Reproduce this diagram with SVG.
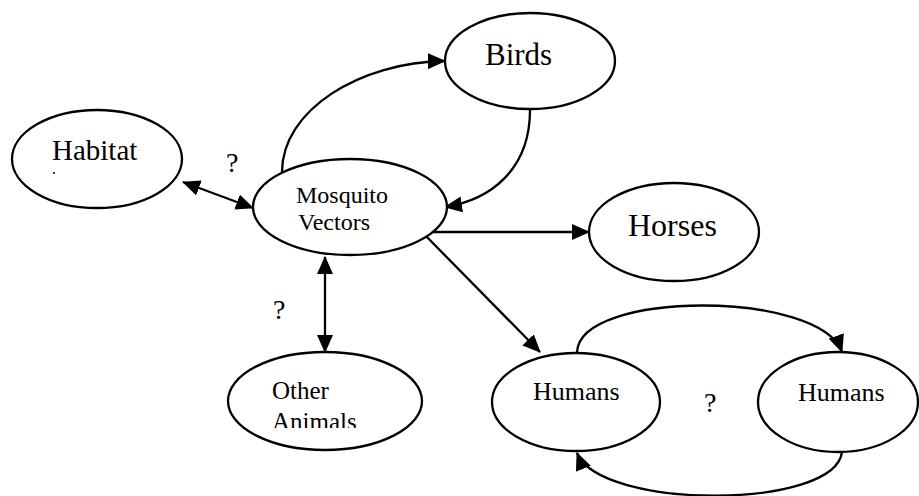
<svg xmlns="http://www.w3.org/2000/svg" width="919" height="496" viewBox="0 0 919 496">
  <style>
    .node { fill: #ffffff; stroke: #000000; stroke-width: 2.3; }
    .lbl { font-family: 'Liberation Serif', 'Times New Roman', serif; fill: #000000; }
    .edge { fill: none; stroke: #000000; stroke-width: 2.3; }
  </style>
  <defs>
    <marker id="arrow" markerUnits="userSpaceOnUse" markerWidth="18" markerHeight="16" refX="17" refY="8" orient="auto-start-reverse">
      <path d="M0,0 L18,8 L0,16 z" fill="#000000"/>
    </marker>
    <clipPath id="clip-animals">
      <rect x="228" y="340" width="200" height="88"/>
    </clipPath>
  </defs>

  <rect width="919" height="496" fill="#ffffff"/>

  <!-- connectors -->
  <g id="connectors">
    <line class="edge" x1="183" y1="182" x2="253" y2="208" marker-start="url(#arrow)" marker-end="url(#arrow)"/>
    <path class="edge" d="M282,172 C282,110 360,62 445,61" marker-end="url(#arrow)"/>
    <path class="edge" d="M530,110 C530,170 490,200 445,207" marker-end="url(#arrow)"/>
    <line class="edge" x1="422" y1="232" x2="589" y2="232" marker-end="url(#arrow)"/>
    <line class="edge" x1="422" y1="232" x2="540" y2="352" marker-end="url(#arrow)"/>
    <line class="edge" x1="325" y1="257" x2="325" y2="352" marker-start="url(#arrow)" marker-end="url(#arrow)"/>
    <path class="edge" d="M577,352 C580,290 820,290 842,352" marker-end="url(#arrow)"/>
    <path class="edge" d="M842,452 C835,510 600,510 577,453" marker-end="url(#arrow)"/>
  </g>

  <!-- question marks on uncertain links -->
  <g id="labels">
    <text class="lbl" x="226" y="172" font-size="28">?</text>
    <text class="lbl" x="273" y="319" font-size="28">?</text>
    <text class="lbl" x="704" y="412" font-size="28">?</text>
  </g>

  <g id="habitat">
    <ellipse class="node" cx="97" cy="159" rx="85" ry="49"/>
    <text class="lbl" x="52" y="160" font-size="29">Habitat</text>
    <circle cx="54" cy="173" r="1" fill="#000000"/>
  </g>

  <g id="mosquito">
    <ellipse class="node" cx="350" cy="207" rx="97" ry="48"/>
    <text class="lbl" x="296" y="203" font-size="24">Mosquito</text>
    <text class="lbl" x="298" y="230" font-size="24">Vectors</text>
  </g>

  <g id="birds">
    <ellipse class="node" cx="530" cy="61" rx="85" ry="48"/>
    <text class="lbl" x="485" y="65" font-size="31">Birds</text>
  </g>

  <g id="horses">
    <ellipse class="node" cx="674" cy="232" rx="85" ry="49"/>
    <text class="lbl" x="628" y="236" font-size="32">Horses</text>
  </g>

  <g id="other-animals">
    <ellipse class="node" cx="325" cy="401" rx="97" ry="49"/>
    <text class="lbl" x="272" y="399" font-size="25">Other</text>
    <text class="lbl" x="272" y="430" font-size="25" clip-path="url(#clip-animals)">Animals</text>
  </g>

  <g id="humans-a">
    <ellipse class="node" cx="576" cy="402" rx="84" ry="49"/>
    <text class="lbl" x="533" y="400" font-size="26">Humans</text>
  </g>

  <g id="humans-b">
    <ellipse class="node" cx="838" cy="402" rx="80" ry="50"/>
    <text class="lbl" x="798" y="401" font-size="26">Humans</text>
  </g>
</svg>
